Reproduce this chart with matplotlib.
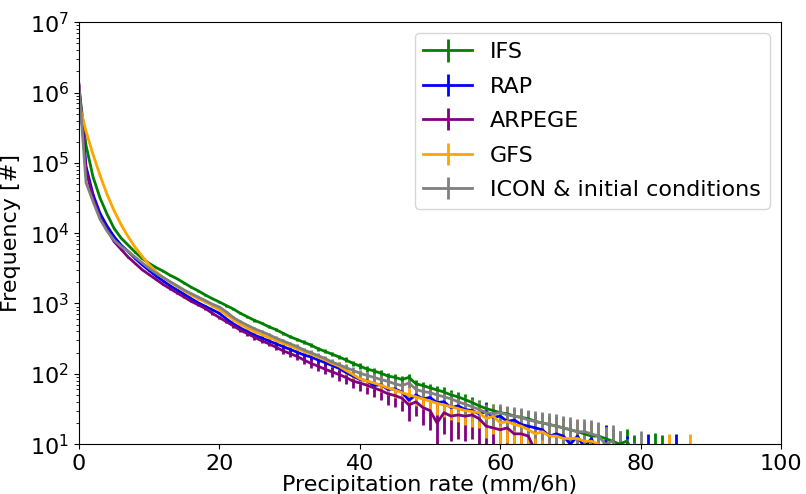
import numpy as np
import matplotlib
matplotlib.use("Agg")
import matplotlib.pyplot as plt

# histogram counts per 1 mm/6h bin
ifs = [1120000, 178000, 63100, 31600, 18600, 11700, 8510, 6760, 5370, 4370,
       3720, 3240, 2880, 2510, 2240, 1950, 1700, 1510, 1320, 1170,
       1050, 933, 832, 724, 646, 575, 525, 468, 427, 380,
       339, 309, 282, 257, 229, 209, 191, 174, 158, 141,
       129, 117, 110, 102, 93, 89, 83, 89, 72, 68,
       63, 59, 55, 50, 47, 43, 39, 35, 32, 30,
       28, 27, 25, 24, 23, 21, 20, 19, 18, 17,
       16, 15, 14, 13, 13, 12, 11, 10, 11, 8,
       5, 4, 9, 8]
rap = [1120000, 89000, 35500, 19050, 12600, 8910, 6760, 5500, 4370, 3550,
       2950, 2450, 2090, 1780, 1550, 1350, 1170, 1020, 910, 813,
       724, 603, 513, 447, 398, 355, 324, 295, 269, 245,
       224, 204, 186, 174, 158, 145, 132, 120, 105, 93,
       83, 80, 68, 70, 60, 61, 55, 42, 50, 44,
       46, 39, 40, 33, 35, 31, 30, 27, 29, 24,
       25, 21, 22, 19, 18, 17, 16, 13, 14, 13,
       10, 13, 9, 12, 7, 11, 6, 5, 6, 4,
       3, 7, 3, 2, 3, 7]
arpege = [1320000, 79400, 31600, 16600, 11200, 7590, 5890, 4570, 3720, 3020,
          2570, 2190, 1860, 1620, 1410, 1230, 1070, 955, 851, 724,
          631, 550, 479, 417, 372, 331, 295, 269, 240, 214,
          195, 178, 158, 141, 129, 117, 107, 98, 89, 79,
          74, 69, 63, 58, 52, 49, 45, 36, 40, 33,
          30, 20, 28, 25, 26, 25, 26, 23, 18, 17,
          16, 17, 14, 14, 13, 8, 3, 2, 2, 1,
          1]
gfs = [708000, 282000, 132000, 66100, 35500, 20900, 13200, 8910, 6310, 4680,
       3550, 2820, 2340, 2000, 1740, 1510, 1320, 1170, 1050, 933,
       813, 692, 589, 501, 447, 398, 363, 331, 302, 275,
       251, 229, 209, 191, 174, 158, 141, 129, 112, 98,
       85, 79, 74, 69, 63, 59, 54, 50, 47, 44,
       41, 38, 36, 34, 32, 30, 29, 28, 23, 25,
       20, 21, 19, 18, 16, 14, 15, 13, 13, 12,
       12, 12, 11, 11, 10, 8, 4, 2, 1, 2,
       1, 1, 1, 1, 5, 1, 1, 5]
icon = [1260000, 52500, 28200, 15800, 10700, 7940, 6460, 5500, 4570, 3800,
        3160, 2690, 2340, 2040, 1780, 1550, 1380, 1230, 1100, 977,
        891, 759, 631, 550, 490, 437, 398, 363, 324, 295,
        269, 245, 219, 200, 182, 166, 148, 135, 123, 112,
        102, 95, 89, 83, 78, 72, 68, 74, 60, 56,
        54, 50, 47, 44, 40, 37, 34, 31, 28, 27,
        28, 26, 25, 24, 22, 21, 20, 19, 18, 17,
        16, 15, 15, 14, 13, 10, 11, 8, 5, 4,
        8]

labels = ["IFS", "RAP", "ARPEGE", "GFS", "ICON & initial conditions"]
colors = ["green", "blue", "purple", "orange", "grey"]
# error bar half-width = 0.8*sqrt(N) + a per-model floor (counts)
err_floor = [3, 5, 10, 7, 5]

plt.rcParams["font.size"] = 16

fig, ax = plt.subplots(figsize=(8.06, 4.94), dpi=100)
fig.subplots_adjust(left=0.098, right=0.969, top=0.955, bottom=0.101)

for counts, lab, col, c in zip([ifs, rap, arpege, gfs, icon], labels, colors, err_floor):
    y = np.array(counts, dtype=float)
    x = np.arange(len(y))
    ax.errorbar(x, y, yerr=0.8 * np.sqrt(y) + c, color=col, label=lab, lw=2, elinewidth=2)

ax.set_yscale("log")
ax.set_xlim(0, 100)
ax.set_ylim(10, 1e7)
ax.set_xticks([0, 20, 40, 60, 80, 100])
ax.tick_params(labelsize=16)
ax.set_xlabel("Precipitation rate (mm/6h)", fontsize=16, labelpad=1)
ax.set_ylabel("Frequency [#]", fontsize=16, labelpad=6)
ax.legend(loc="upper right", fontsize=16, handlelength=2.2, labelspacing=0.65)

fig.savefig("out.png", dpi=100)
